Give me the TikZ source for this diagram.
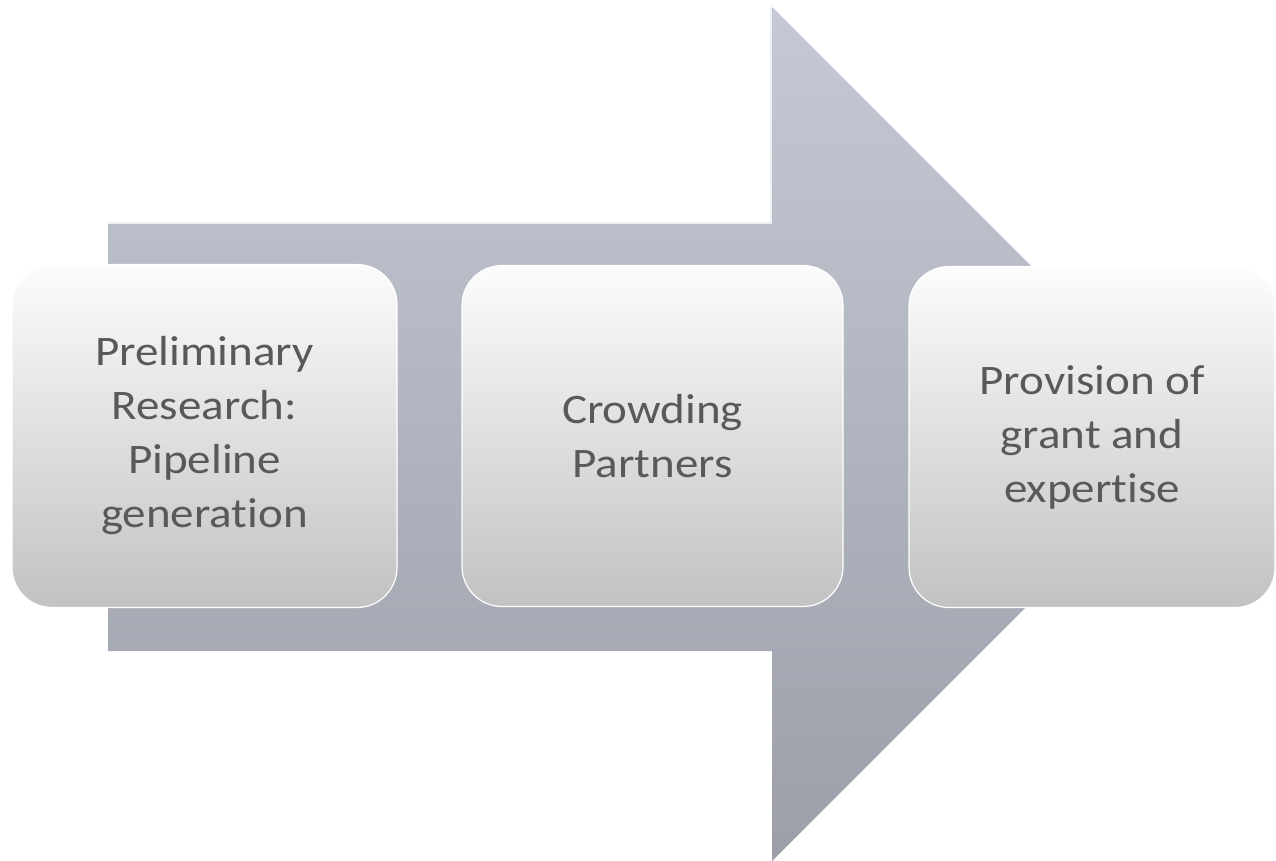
\documentclass[tikz,border=0pt]{standalone}
\usepackage{fontspec}
\setmainfont[FakeStretch=1.12,Ligatures={NoCommon}]{Carlito}
\usetikzlibrary{shadows}
\definecolor{arrowtop}{HTML}{C4C9D5}
\definecolor{arrowbot}{HTML}{9C9FA8}
\definecolor{boxtop}{HTML}{FCFCFC}
\definecolor{boxbot}{HTML}{C2C2C2}
\definecolor{boxtext}{HTML}{595959}
\tikzset{
  bigarrow/.style={top color=arrowtop, bottom color=arrowbot, draw=none},
  stepbox/.style={rounded corners=40pt, top color=boxtop, bottom color=boxbot,
    draw=white, line width=1.2pt, inner sep=0pt, align=center, text=boxtext,
    font=\fontsize{42}{54}\selectfont},
}
\begin{document}
\begin{tikzpicture}[x=1pt,y=-1pt]
\useasboundingbox (0,0) rectangle (1276,861);
\fill[white] (0,0) rectangle (1276,861);
\path[bigarrow] (108,222) -- (772,222) -- (772,7) -- (1199,434) -- (772,861) -- (772,651) -- (108,651) -- cycle;
\draw[white!70!arrowtop, line width=1.5pt] (108,223) -- (771,223) -- (771,8);
\node[stepbox, minimum width=385pt, minimum height=343pt] (b1) at (204.5,436) {Preliminary\\Research:\\Pipeline\\generation};
\node[stepbox, minimum width=381pt, minimum height=341pt] (b2) at (652.5,436) {Crowding\\Partners};
\node[stepbox, minimum width=366pt, minimum height=341pt] (b3) at (1092,437) {Provision of\\grant and\\expertise};
\end{tikzpicture}
\end{document}
